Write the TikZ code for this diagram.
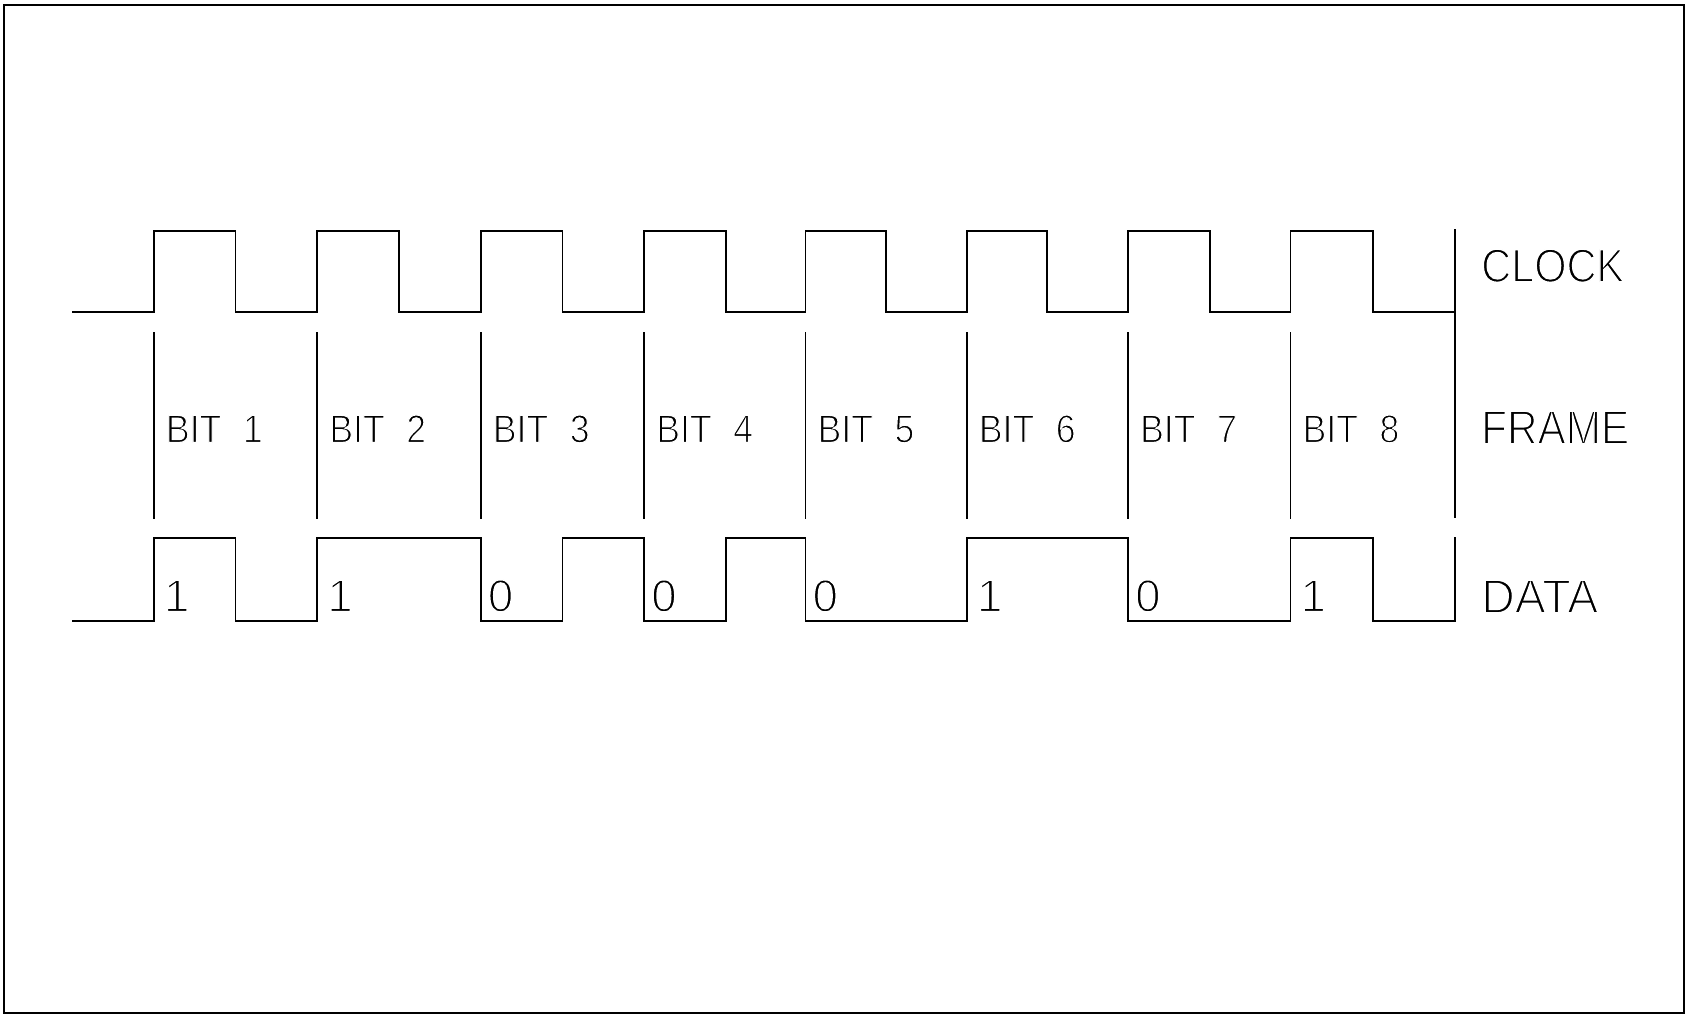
\documentclass[tikz,border=0pt]{standalone}
\usepackage{graphicx}
\usepackage{fontspec}
\setmainfont{Liberation Sans}
\newcommand\thintxt[2][1.5]{\special{pdf:literal direct 2 Tr 1 G #1 w}#2\special{pdf:literal direct 0 Tr 0 G}}
\begin{document}
\begin{tikzpicture}[x=1pt,y=-1pt,
  wave/.style={line width=1.8pt, line join=miter, line cap=rect},
  lbl/.style={inner sep=0pt, anchor=base west, font=\fontsize{39.5}{42}\selectfont},
  big/.style={inner sep=0pt, anchor=base west, font=\fontsize{45.5}{48}\selectfont}]
\useasboundingbox (0,0) rectangle (1686,1015);
\draw[line width=2pt] (4,5) rectangle (1684,1013);
% clock
\draw[wave] (73,312)
  foreach \r/\f in {153.8/235.5,317.2/398.9,480.7/562.4,644.1/725.8,805.4/886.0,966.7/1047.3,1128.0/1209.7,1290.4/1373.2}
  { -- (\r,312) -- (\r,231) -- (\f,231) -- (\f,312) } -- (1454.8,312);
\draw[wave] (1454.8,230) -- (1454.8,517);
% frame separators and labels
\foreach \r [count=\i] in {153.8,317.2,480.7,644.1,805.4,966.7,1128.0,1290.4} {
  \draw[wave] (\r,333) -- (\r,518);
  \node[lbl] (bit\i) at (\r+12,442.5) {\thintxt[1.2]{\scalebox{0.9}[1]{BIT\hspace{24pt}\i}}};
}
% data
\draw[wave] (73,621) -- (153.8,621) -- (153.8,538) -- (235.5,538) -- (235.5,621)
  -- (317.2,621) -- (317.2,538) -- (480.7,538) -- (480.7,621) -- (562.4,621)
  -- (562.4,538) -- (644.1,538) -- (644.1,621) -- (725.8,621) -- (725.8,538)
  -- (805.4,538) -- (805.4,621) -- (966.7,621) -- (966.7,538) -- (1128.0,538)
  -- (1128.0,621) -- (1290.4,621) -- (1290.4,538) -- (1373.2,538) -- (1373.2,621)
  -- (1454.8,621) -- (1454.8,538);
\foreach \r/\d/\o [count=\i] in {153.8/1/10,317.2/1/10,480.7/0/7,644.1/0/7,805.4/0/7,966.7/1/10,1128.0/0/7,1290.4/1/10} {
  \node[big] (d\i) at (\r+\o,611.5) {\thintxt{\d}};
}
% signal names
\node[big] (clk) at (1481,282) {\thintxt{\resizebox{143pt}{33pt}{CLOCK}}};
\node[big] (frm) at (1481,444) {\thintxt{\resizebox{148pt}{33pt}{FRAME}}};
\node[big] (dat) at (1481,613) {\thintxt{\resizebox{117pt}{33pt}{DATA}}};
\end{tikzpicture}
\end{document}
